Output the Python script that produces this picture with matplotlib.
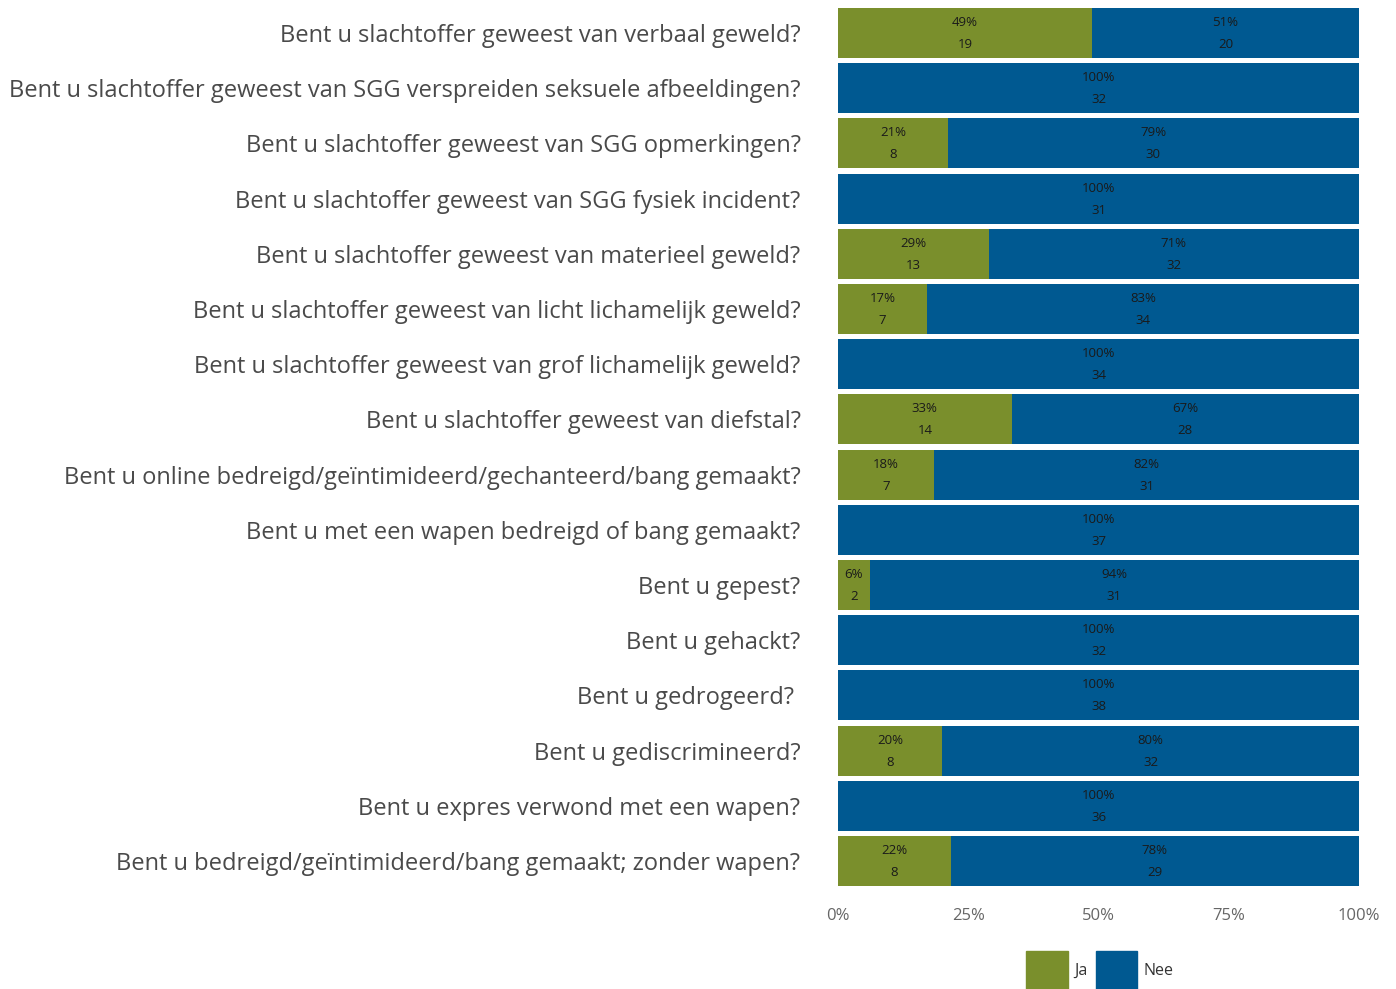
import matplotlib
matplotlib.use("Agg")
import matplotlib.pyplot as plt
import numpy as np
from matplotlib.patches import Patch

plt.rcParams['font.family'] = ['Open Sans', 'DejaVu Sans']

questions = [
    "Bent u slachtoffer geweest van verbaal geweld?",
    "Bent u slachtoffer geweest van SGG verspreiden seksuele afbeeldingen?",
    "Bent u slachtoffer geweest van SGG opmerkingen?",
    "Bent u slachtoffer geweest van SGG fysiek incident?",
    "Bent u slachtoffer geweest van materieel geweld?",
    "Bent u slachtoffer geweest van licht lichamelijk geweld?",
    "Bent u slachtoffer geweest van grof lichamelijk geweld?",
    "Bent u slachtoffer geweest van diefstal?",
    "Bent u online bedreigd/geïntimideerd/gechanteerd/bang gemaakt?",
    "Bent u met een wapen bedreigd of bang gemaakt?",
    "Bent u gepest?",
    "Bent u gehackt?",
    "Bent u gedrogeerd? ",
    "Bent u gediscrimineerd?",
    "Bent u expres verwond met een wapen?",
    "Bent u bedreigd/geïntimideerd/bang gemaakt; zonder wapen?",
]
ja_counts = [19, 0, 8, 0, 13, 7, 0, 14, 7, 0, 2, 0, 0, 8, 0, 8]
nee_counts = [20, 32, 30, 31, 32, 34, 34, 28, 31, 37, 31, 32, 38, 32, 36, 29]
series_names = ["Ja", "Nee"]
colors = ["#7A8F2C", "#005991"]
xticks = [0, 25, 50, 75, 100]

ja = np.array(ja_counts, float)
nee = np.array(nee_counts, float)
tot = ja + nee
ja_pct = ja / tot * 100
nee_pct = nee / tot * 100

fig = plt.figure(figsize=(13.96, 9.89), dpi=100)
ax = fig.add_axes([838/1396, 1-888.6/989, (1359-838)/1396, (888.6-5.4)/989])
y = np.arange(len(questions))
h = 0.905
ax.barh(y, ja_pct, height=h, color=colors[0], label=series_names[0])
ax.barh(y, nee_pct, left=ja_pct, height=h, color=colors[1], label=series_names[1])

for i in range(len(questions)):
    for left, w, cnt in [(0, ja_pct[i], ja[i]), (ja_pct[i], nee_pct[i], nee[i])]:
        if cnt > 0:
            cx = left + w / 2
            ax.text(cx, i - 0.19, f"{w:.0f}%", ha='center', va='center', fontsize=9.5, color='#1a1a1a')
            ax.text(cx, i + 0.21, f"{int(cnt)}", ha='center', va='center', fontsize=9.5, color='#1a1a1a')

ax.set_ylim(len(questions) - 0.5, -0.5)
ax.set_xlim(0, 100)
ax.set_yticks(y)
ax.set_yticklabels(questions, fontsize=17, color='#4a4a4a')
ax.set_xticks(xticks)
ax.set_xticklabels([f"{t}%" for t in xticks], fontsize=12, color='#666666')
ax.tick_params(axis='both', length=0)
ax.tick_params(axis='y', pad=27)
ax.tick_params(axis='x', pad=14)
for s in ax.spines.values():
    s.set_visible(False)

handles = [Patch(color=colors[0]), Patch(color=colors[1])]
fig.legend(handles, series_names, loc='center', bbox_to_anchor=(1100/1396, 1-970/989), ncol=2,
           frameon=False, fontsize=11.5, handlelength=2.6, handleheight=3.3, handletextpad=0.4,
           columnspacing=0.5, labelcolor='#333333', borderpad=0)

fig.savefig("out.png", dpi=100)
